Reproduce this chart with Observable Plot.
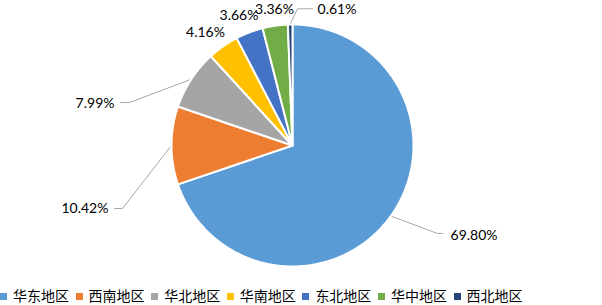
<!DOCTYPE html>
<html>
<head>
<meta charset="utf-8">
<script src="https://cdn.jsdelivr.net/npm/d3@7"></script>
<script src="https://cdn.jsdelivr.net/npm/@observablehq/plot@0.6"></script>
<style>
  html, body { margin: 0; padding: 0; background: #fff; overflow: hidden; }
  #wrap { position: relative; width: 602px; height: 305px; }
  #legend { position: absolute; left: 0; top: 287px; display: flex; font-family: "Noto Sans CJK SC", sans-serif; font-size: 14px; line-height: 16px; color: #000; white-space: nowrap; }
  .item { display: flex; align-items: center; margin-right: 6.6px; }
  .sw { width: 7px; height: 7px; margin-right: 6px; margin-top: 2px; }
</style>
</head>
<body>
<div id="wrap"><div id="chart"></div><div id="legend"></div></div>
<script>
const categories = ["华东地区", "西南地区", "华北地区", "华南地区", "东北地区", "华中地区", "西北地区"];
const shares = [69.80, 10.42, 7.99, 4.16, 3.66, 3.36, 0.61];
const colors = ["#5B9BD5", "#ED7D31", "#A5A5A5", "#FFC000", "#4472C4", "#70AD47", "#264478"];
const labels = shares.map(v => v.toFixed(2) + "%");

// label layout (unit-circle coordinates), not data
const labelLayout = [
  {elbow: [1.198, -0.727], end: [1.24, -0.727], text: [1.306, -0.744], anchor: "start"},
  {elbow: [-1.405, -0.521], end: [-1.471, -0.521], text: [-1.521, -0.521], anchor: "end"},
  {elbow: [-1.347, 0.355], end: [-1.421, 0.355], text: [-1.471, 0.347], anchor: "end"},
  {elbow: null, end: null, text: [-0.719, 0.934], anchor: "middle"},
  {elbow: null, end: null, text: [-0.442, 1.075], anchor: "middle"},
  {elbow: null, end: null, text: [-0.149, 1.12], anchor: "middle"},
  {elbow: [0.041, 1.13], end: [0.165, 1.13], text: [0.207, 1.12], anchor: "start"}
];

const total = d3.sum(shares);
let cum = 0;
const slicePts = [];
const leaderPts = [];
const labelData = [];
categories.forEach((c, i) => {
  const a0 = cum / total * 360;
  cum += shares[i];
  const a1 = cum / total * 360;
  const pts = [{c, x: 0, y: 0}];
  const n = Math.max(2, Math.ceil((a1 - a0) / 0.5));
  for (let k = 0; k <= n; k++) {
    const t = (a0 + (a1 - a0) * k / n) * Math.PI / 180;
    pts.push({c, x: Math.sin(t), y: Math.cos(t)});
  }
  pts.push({c, x: 0, y: 0});
  slicePts.push(...pts);
  const L = labelLayout[i];
  const am = (a0 + a1) / 2 * Math.PI / 180;
  if (L.elbow) {
    leaderPts.push({c, x: Math.sin(am), y: Math.cos(am)});
    leaderPts.push({c, x: L.elbow[0], y: L.elbow[1]});
    leaderPts.push({c, x: L.end[0], y: L.end[1]});
  }
  labelData.push({c, x: L.text[0], y: L.text[1], label: labels[i], anchor: L.anchor});
});

const cx = 292, cy = 145, r = 121, W = 602, H = 286;
const chart = Plot.plot({
  width: W, height: H,
  marginTop: 0, marginRight: 0, marginBottom: 0, marginLeft: 0,
  x: {type: "linear", domain: [-1, 1], range: [cx - r, cx + r], axis: null},
  y: {type: "linear", domain: [-1, 1], range: [cy + r, cy - r], axis: null},
  color: {domain: categories, range: colors},
  style: {fontFamily: "Lato, sans-serif", fontSize: "14px", overflow: "visible"},
  marks: [
    Plot.line(leaderPts, {x: "x", y: "y", z: "c", stroke: "#A6A6A6", strokeWidth: 1, strokeLinejoin: "miter"}),
    Plot.line(slicePts, {x: "x", y: "y", z: "c", fill: "c", stroke: "white", strokeWidth: 2, strokeLinejoin: "round"}),
    ...["start", "middle", "end"].map(a =>
      Plot.text(labelData.filter(d => d.anchor === a), {x: "x", y: "y", text: "label", textAnchor: a, fill: "#000", fontSize: 14}))
  ]
});
document.getElementById("chart").appendChild(chart);

const legend = d3.select("#legend");
categories.forEach((c, i) => {
  const it = legend.append("div").attr("class", "item");
  it.append("div").attr("class", "sw").style("background", colors[i]);
  it.append("span").text(c);
});
</script>
</body>
</html>
